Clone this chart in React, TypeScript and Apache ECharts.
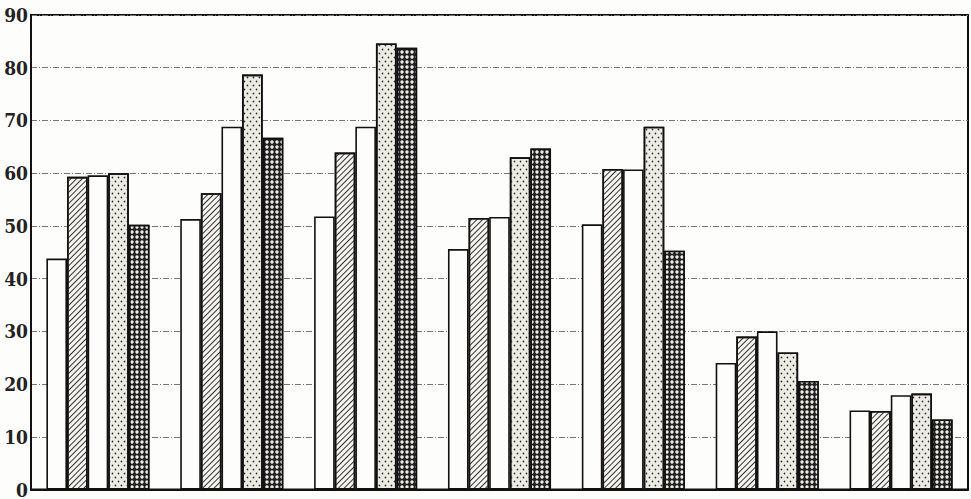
import React, { useEffect, useRef } from "react";
import * as echarts from "echarts";

const categories = ["G1", "G2", "G3", "G4", "G5", "G6", "G7"];
const seriesA = [43.8, 51.3, 51.8, 45.6, 50.3, 24.0, 15.0];
const seriesB = [59.3, 56.2, 63.9, 51.5, 60.8, 29.0, 14.9];
const seriesC = [59.6, 68.8, 68.8, 51.7, 60.7, 30.0, 17.9];
const seriesD = [60.0, 78.7, 84.6, 63.0, 68.8, 26.0, 18.2];
const seriesE = [50.2, 66.7, 83.8, 64.7, 45.3, 20.6, 13.3];
const yTicks = [0, 10, 20, 30, 40, 50, 60, 70, 80, 90];

export default function App() {
  const ref = useRef<HTMLDivElement>(null);
  useEffect(() => {
    document.body.style.margin = "0";
    const chart = echarts.init(ref.current!, null, { renderer: "svg" });
    const border = { borderColor: "#111", borderWidth: 1.6 };
    const mk = (name: string, data: number[], itemStyle: any) => ({
      name,
      type: "bar",
      data,
      barGap: "0%",
      barCategoryGap: "23%",
      itemStyle: { ...border, ...itemStyle },
    });
    chart.setOption({
      animation: false,
      backgroundColor: "#fdfdfb",
      grid: {
        left: 31,
        right: 3,
        top: 15,
        bottom: 4,
        show: true,
        borderColor: "#111",
        borderWidth: 2,
        backgroundColor: "transparent",
      },
      xAxis: {
        type: "category",
        data: categories,
        axisLabel: { show: false },
        axisTick: { show: false },
        axisLine: { lineStyle: { color: "#111", width: 2 } },
      },
      yAxis: {
        type: "value",
        min: yTicks[0],
        max: yTicks[yTicks.length - 1],
        interval: 10,
        axisLine: { show: true, lineStyle: { color: "#111", width: 2 } },
        axisTick: { show: false },
        axisLabel: {
          margin: 3,
          color: "#222",
          fontFamily: "DejaVu Serif Condensed",
          fontSize: 19,
          fontWeight: "bold",
        },
        splitLine: {
          show: true,
          lineStyle: { color: "#777", width: 1, type: [6, 2, 1, 2] },
        },
      },
      series: [
        mk("A", seriesA, { color: "#fdfdfb" }),
        mk("B", seriesB, {
          color: "#f6f5f0",
          decal: {
            symbol: "rect",
            symbolSize: 1,
            dashArrayX: [1, 0],
            dashArrayY: [1, 2.2],
            rotation: -Math.PI / 4,
            color: "#333",
          },
        }),
        mk("C", seriesC, { color: "#fdfdfb" }),
        mk("D", seriesD, {
          color: "#ecebe4",
          decal: {
            symbol: "circle",
            symbolSize: 0.55,
            dashArrayX: [[3, 3], [0, 3, 3, 0]],
            dashArrayY: [3, 1],
            rotation: 0,
            color: "#333",
          },
        }),
        mk("E", seriesE, {
          color: "#222",
          decal: {
            symbol: "circle",
            symbolSize: 0.85,
            dashArrayX: [4, 1],
            dashArrayY: [4, 1],
            rotation: 0,
            color: "#eeede6",
          },
        }),
      ],
    });
    return () => chart.dispose();
  }, []);
  return (
    <div
      ref={ref}
      style={{ position: "fixed", left: 0, top: 0, width: 971, height: 499 }}
    />
  );
}
